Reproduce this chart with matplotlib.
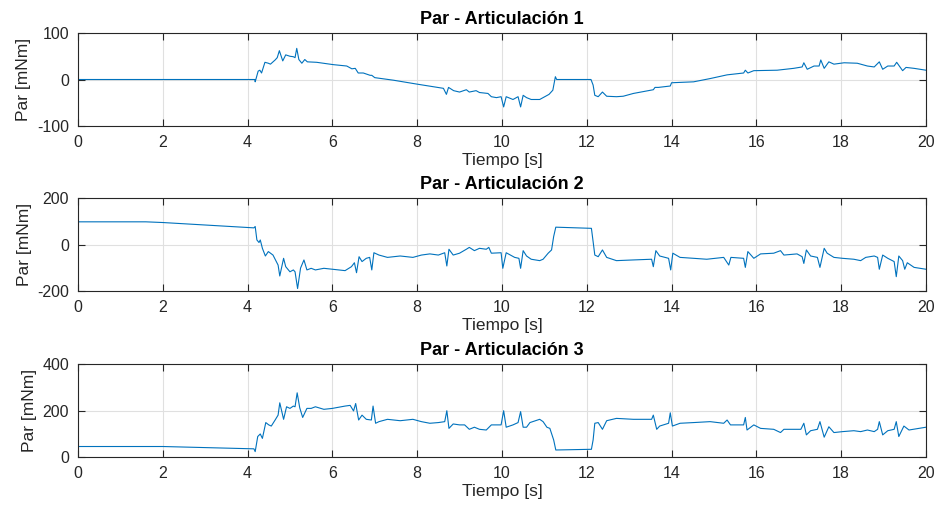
import numpy as np
import matplotlib
matplotlib.use("Agg")
import matplotlib.pyplot as plt

# ---------------- data ----------------
t1 = [0, 4.17, 4.18, 4.25, 4.29, 4.33, 4.41, 4.49, 4.54, 4.65, 4.70, 4.75, 4.83, 4.90, 5.00, 5.08,
      5.12, 5.16, 5.21, 5.28, 5.35, 5.41, 5.63, 6.02, 6.34, 6.46, 6.54, 6.61, 6.73, 6.89, 6.93,
      7.00, 7.44, 8.00, 8.62, 8.69, 8.74, 8.86, 9.00, 9.16, 9.23, 9.39, 9.47, 9.67, 9.75, 9.87,
      9.98, 10.04, 10.10, 10.26, 10.38, 10.44, 10.50, 10.58, 10.69, 10.89, 11.01, 11.11, 11.20,
      11.26, 11.29, 12.10, 12.15, 12.19, 12.27, 12.37, 12.47, 12.70, 12.86, 13.10, 13.57, 13.61,
      13.69, 13.97, 14.00, 14.52, 14.91, 15.31, 15.70, 15.74, 15.80, 15.94, 16.49, 16.88, 17.08,
      17.12, 17.20, 17.36, 17.48, 17.52, 17.60, 17.71, 17.83, 18.07, 18.38, 18.62, 18.78, 18.90,
      18.98, 19.10, 19.25, 19.31, 19.45, 19.53, 19.72, 20.00]
y1 = [0, 0, -5, 18, 20, 14, 37, 35, 33, 42, 47, 62, 40, 53, 50, 49,
      47, 67, 43, 35, 43, 38, 37, 32, 29, 23, 24, 14, 14, 9, 9,
      4, -1.5, -10, -19, -32, -17, -24, -27, -22, -27, -24, -28, -30, -37, -39,
      -37, -59, -37, -43, -37, -59, -34, -39, -43, -43, -37, -32, -23,
      6, 0, 0, -12, -34, -37, -27, -36, -37, -36, -30, -22, -17,
      -17, -14, -7, -5, 2, 10, 14, 20, 14, 19, 20, 24, 27,
      36, 22, 29, 29, 42, 24, 38, 33, 36, 35, 29, 27, 38,
      22, 29, 29, 37, 19, 26, 24, 20]

t2 = [0, 1.6, 2.0, 4.15, 4.18, 4.22, 4.27, 4.30, 4.35, 4.42, 4.49, 4.60, 4.72, 4.76, 4.85, 4.90,
      5.00, 5.08, 5.12, 5.18, 5.25, 5.33, 5.40, 5.50, 5.60, 5.80, 6.00, 6.30, 6.45, 6.52, 6.57,
      6.63, 6.70, 6.80, 6.88, 6.93, 6.98, 7.10, 7.30, 7.60, 7.90, 8.10, 8.30, 8.50, 8.65, 8.70,
      8.75, 8.85, 9.00, 9.16, 9.23, 9.35, 9.47, 9.63, 9.69, 9.75, 9.98, 10.02, 10.10, 10.30,
      10.40, 10.44, 10.50, 10.58, 10.69, 10.89, 10.97, 11.09, 11.17, 11.22, 11.27, 12.11, 12.15,
      12.19, 12.27, 12.37, 12.47, 12.70, 13.10, 13.53, 13.57, 13.63, 13.72, 13.93, 13.98, 14.03,
      14.20, 14.52, 14.83, 15.23, 15.35, 15.40, 15.70, 15.74, 15.80, 15.94, 16.10, 16.41, 16.57,
      16.65, 16.96, 17.08, 17.12, 17.18, 17.28, 17.44, 17.50, 17.60, 17.67, 17.83, 18.03, 18.30,
      18.46, 18.58, 18.78, 18.86, 18.90, 18.98, 19.10, 19.25, 19.30, 19.36, 19.45, 19.50, 19.56,
      19.72, 20.00]
y2 = [98, 98, 95, 72, 78, 20, 9, 20, -16, -49, -30, -45, -88, -135, -59, -95,
      -117, -109, -117, -189, -101, -66, -109, -102, -109, -102, -106, -112, -95, -78, -121,
      -52, -73, -59, -55, -109, -35, -45, -55, -49, -55, -45, -40, -45, -35, -92,
      -20, -45, -37, -20, -12, -26, -16, -20, -12, -37, -35, -102, -35, -55,
      -59, -102, -26, -49, -63, -69, -63, -37, -23, 35, 75, 70, 13,
      -45, -52, -23, -55, -69, -66, -63, -95, -26, -49, -59, -109, -37,
      -55, -59, -63, -55, -88, -55, -59, -98, -30, -59, -40, -37, -26,
      -45, -40, -52, -81, -23, -49, -55, -98, -16, -37, -55, -59, -63,
      -69, -55, -49, -55, -106, -45, -59, -73, -138, -49, -69, -106, -78,
      -98, -106]

t3 = [0, 2.0, 4.15, 4.18, 4.24, 4.30, 4.35, 4.43, 4.50, 4.56, 4.65, 4.72, 4.76, 4.85, 4.92,
      5.00, 5.08, 5.12, 5.17, 5.23, 5.30, 5.40, 5.50, 5.60, 5.80, 6.00, 6.30, 6.42, 6.50, 6.55,
      6.62, 6.70, 6.80, 6.92, 6.96, 7.02, 7.10, 7.30, 7.60, 7.90, 8.10, 8.30, 8.50, 8.65, 8.70,
      8.75, 8.85, 9.00, 9.12, 9.23, 9.35, 9.47, 9.63, 9.75, 9.98, 10.04, 10.10, 10.26, 10.38,
      10.44, 10.50, 10.58, 10.66, 10.89, 10.97, 11.06, 11.13, 11.22, 11.27, 12.11, 12.15, 12.19,
      12.27, 12.37, 12.47, 12.70, 13.10, 13.53, 13.57, 13.65, 13.72, 13.93, 13.97, 14.02, 14.20,
      14.52, 14.91, 15.23, 15.31, 15.39, 15.70, 15.74, 15.78, 15.94, 16.10, 16.41, 16.57, 16.65,
      17.05, 17.12, 17.18, 17.28, 17.44, 17.50, 17.60, 17.71, 17.83, 18.03, 18.30, 18.46, 18.62,
      18.78, 18.86, 18.90, 18.98, 19.10, 19.25, 19.30, 19.36, 19.48, 19.60, 20.00]
y3 = [46, 46, 36, 24, 89, 100, 81, 149, 139, 134, 160, 181, 234, 163, 217,
      210, 220, 217, 277, 213, 171, 210, 210, 217, 206, 210, 220, 223, 199, 231,
      160, 181, 163, 160, 220, 146, 153, 163, 157, 163, 153, 146, 149, 153, 200,
      124, 143, 139, 139, 120, 129, 120, 117, 139, 139, 200, 129, 139, 149,
      196, 129, 129, 149, 163, 153, 129, 124, 74, 31, 34, 74, 146,
      149, 120, 157, 167, 163, 163, 181, 120, 134, 146, 191, 134, 146,
      149, 153, 146, 160, 139, 139, 171, 117, 139, 124, 120, 106, 120,
      120, 146, 96, 114, 120, 153, 86, 131, 106, 110, 114, 110, 117,
      110, 120, 153, 96, 114, 120, 153, 89, 134, 117, 129]

series = [(t1, y1, (-100, 100), [-100, 0, 100]),
          (t2, y2, (-200, 200), [-200, 0, 200]),
          (t3, y3, (0, 400), [0, 200, 400])]
titles = ["Par - Articulación 1", "Par - Articulación 2", "Par - Articulación 3"]
xticks = [0, 2, 4, 6, 8, 10, 12, 14, 16, 18, 20]

# ---------------- style ----------------
plt.rcParams['font.family'] = ['Liberation Sans', 'DejaVu Sans']
plt.rcParams['axes.unicode_minus'] = False
dark = '#262626'
line_color = '#0072BD'

fig = plt.figure(figsize=(9.37, 5.08), dpi=100)
bottoms = [0.752, 0.427, 0.100]
for i, (t, y, lim, yt) in enumerate(series):
    ax = fig.add_axes([0.0832, bottoms[i], 0.905, 0.183])
    ax.plot(t, y, color=line_color, lw=0.8)
    ax.set_xlim(0, 20)
    ax.set_ylim(*lim)
    ax.set_xticks(xticks)
    ax.set_yticks(yt)
    ax.grid(True, color='#e0e0e0', lw=0.8)
    ax.set_axisbelow(True)
    ax.tick_params(direction='in', top=True, right=True, length=5, width=0.8,
                   colors=dark, labelsize=11.5, pad=6.5)
    for s in ax.spines.values():
        s.set_color(dark)
        s.set_linewidth(0.8)
    ax.set_title(titles[i], fontsize=13, fontweight='bold', color='black', pad=6.5)
    ax.set_xlabel("Tiempo [s]", fontsize=12.5, color=dark, labelpad=2)
    ax.set_ylabel("Par [mNm]", fontsize=12.5, color=dark, labelpad=4)

fig.savefig("out.png", dpi=100)
